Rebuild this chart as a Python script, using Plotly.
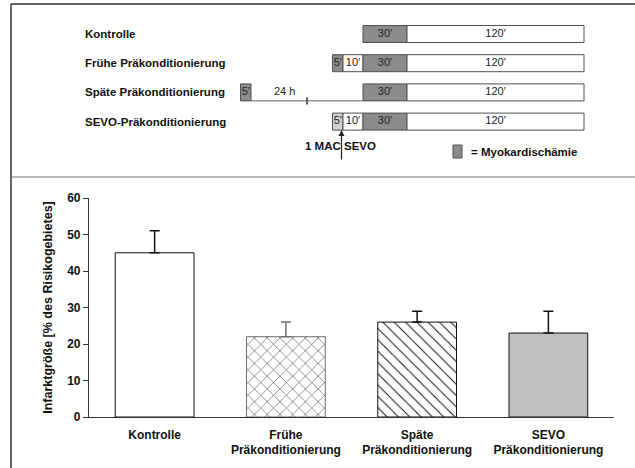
import plotly.graph_objects as go

# ---- protocol schematic (top panel) ----
proto_rows = ["Kontrolle", "Frühe Präkonditionierung",
              "Späte Präkonditionierung", "SEVO-Präkonditionierung"]
proto_minutes = [[30, 120], [5, 10, 30, 120], [5, 1440, 30, 120], [5, 10, 30, 120]]
proto_phase = [["isch", "rep"], ["isch", "rep", "isch", "rep"],
               ["isch", "gap", "isch", "rep"], ["sevo", "rep", "isch", "rep"]]

# ---- infarct size (bottom panel) ----
categories = ["Kontrolle", "Frühe<br>Präkonditionierung",
              "Späte<br>Präkonditionierung", "SEVO<br>Präkonditionierung"]
infarct = [45, 22, 26, 23]
sem = [6, 4, 3, 6]

W, H = 635, 468
FONT = "Liberation Sans, Arial, sans-serif"
ISCH, SEVO_C, EDGE = "#8c8c8c", "#d0d0d0", "#505050"

def px(xp):
    return xp / W

def py(yp):
    return 1 - yp / H

# schematic (not to scale) drawing width for each duration
def seg_width(minutes):
    return {5: 10.5, 10: 20, 30: 44, 120: 177, 1440: 112}[minutes]

def label_for(minutes):
    return "24 h" if minutes == 1440 else f"{minutes}′"

fig = go.Figure()

row_y0, row_step, bar_h = 34, 29.2, 17
fill_of = {"isch": ISCH, "rep": "white", "sevo": SEVO_C}
tx, ty, tt = [], [], []
for i, (mins, phases) in enumerate(zip(proto_minutes, proto_phase)):
    yc = row_y0 + i * row_step
    widths = [seg_width(m) for m in mins]
    # index ischaemia (second to last segment) starts at 0
    start = -sum(widths[:-2])
    for m, ph, w in zip(mins, phases, widths):
        if ph == "gap":
            fig.add_trace(go.Scatter(
                x=[start, start + w], y=[yc + bar_h / 2, yc + bar_h / 2],
                mode="lines", line=dict(color="#606060", width=1),
                xaxis="x2", yaxis="y2", showlegend=False, hoverinfo="skip"))
            fig.add_trace(go.Scatter(
                x=[start + w / 2], y=[yc + bar_h / 2], mode="markers",
                marker=dict(symbol="line-ns-open", size=5, color="#606060",
                            line=dict(color="#606060", width=2)),
                xaxis="x2", yaxis="y2", showlegend=False, hoverinfo="skip"))
            tx.append(start + w * 0.3); ty.append(yc); tt.append(label_for(m))
        else:
            fig.add_trace(go.Bar(
                y=[yc], x=[w], base=[start], orientation="h", width=bar_h,
                marker=dict(color=fill_of[ph], line=dict(color=EDGE, width=1)),
                xaxis="x2", yaxis="y2", showlegend=False, hoverinfo="skip"))
            tx.append(start + w / 2); ty.append(yc); tt.append(label_for(m))
        start += w
    fig.add_annotation(x=px(83), y=yc, xref="paper", yref="y2",
                       text=f"<b>{proto_rows[i]}</b>", showarrow=False,
                       xanchor="left", yanchor="middle",
                       font=dict(family=FONT, size=11.5, color="#111"))

fig.add_trace(go.Scatter(
    x=tx, y=ty, text=tt, mode="text", textposition="middle center",
    textfont=dict(family=FONT, size=11, color="#222"),
    xaxis="x2", yaxis="y2", showlegend=False, hoverinfo="skip"))

# sevoflurane application arrow
sevo_start = -(seg_width(5) + seg_width(10))
arrow_x = sevo_start + 9
sevo_y = row_y0 + 3 * row_step + bar_h / 2
fig.add_annotation(x=arrow_x, y=sevo_y, ax=arrow_x, ay=sevo_y + 31,
                   xref="x2", yref="y2", axref="x2", ayref="y2", text="",
                   showarrow=True, arrowhead=2, arrowsize=1, arrowwidth=1.2,
                   arrowcolor="#222")
fig.add_annotation(x=arrow_x - 1, y=sevo_y + 16, xref="x2", yref="y2",
                   text="<b>1 MAC SEVO</b>", showarrow=False,
                   font=dict(family=FONT, size=11.5, color="#111"))

# legend swatch for ischaemia
fig.add_shape(type="rect", xref="x2", yref="y2", x0=90, x1=99, y0=145, y1=158,
              fillcolor=ISCH, line=dict(color=EDGE, width=1))
fig.add_annotation(x=106, y=152, xref="x2", yref="y2",
                   text="<b>= Myokardischämie</b>", showarrow=False,
                   xanchor="left", font=dict(family=FONT, size=11.5, color="#111"))

# ---- bars ----
bar_styles = [
    dict(color="white", line=dict(color="#111", width=1)),
    dict(color="white", line=dict(color="#6e6e6e", width=1),
         pattern=dict(shape="x", fgcolor="#6e6e6e", bgcolor="white",
                      size=9, solidity=0.16, fillmode="replace")),
    dict(color="white", line=dict(color="#111", width=1),
         pattern=dict(shape="\\", fgcolor="#111", bgcolor="white",
                      size=8, solidity=0.12, fillmode="replace")),
    dict(color="#c0c0c0", line=dict(color="#111", width=1)),
]
err_colors = ["#111", "#6e6e6e", "#111", "#111"]
for c, v, e, st, ec in zip(categories, infarct, sem, bar_styles, err_colors):
    fig.add_trace(go.Bar(
        x=[c], y=[v], width=0.6, marker=st,
        error_y=dict(type="data", array=[e], arrayminus=[0], symmetric=False,
                     color=ec, thickness=1.5, width=5),
        showlegend=False))

# frame lines
frame = dict(color="#333", width=1.5)
fig.add_shape(type="line", xref="paper", yref="paper", x0=px(11), x1=1,
              y0=py(4), y1=py(4), line=frame)
fig.add_shape(type="line", xref="paper", yref="paper", x0=px(11), x1=px(11),
              y0=py(4), y1=0, line=frame)
fig.add_shape(type="line", xref="paper", yref="paper", x0=px(11), x1=1,
              y0=py(177), y1=py(177), line=dict(color="#777", width=1.2))

tickfont = dict(family=FONT, size=12, color="#111", weight="bold")
fig.update_layout(
    width=W, height=H, margin=dict(l=0, r=0, t=0, b=0),
    paper_bgcolor="white", plot_bgcolor="white", barmode="overlay",
    xaxis=dict(domain=[px(89), px(614)], categoryorder="array",
               categoryarray=categories, range=[-0.5, 3.5],
               showline=True, linecolor="#333", linewidth=1.2,
               ticks="", tickfont=tickfont, automargin=False,
               ticklabelstandoff=6, showgrid=False, zeroline=False),
    yaxis=dict(domain=[py(417), py(198)], range=[0, 60],
               tickvals=[0, 10, 20, 30, 40, 50, 60], ticks="outside",
               ticklen=5, tickcolor="#333", showline=True, linecolor="#333",
               linewidth=1.2, tickfont=tickfont, showgrid=False,
               zeroline=False, automargin=False,
               title=dict(text="Infarktgröße [% des Risikogebietes]",
                          font=dict(family=FONT, size=12.5, color="#111",
                                    weight="bold"), standoff=11)),
    xaxis2=dict(domain=[0, 1], range=[-363, W - 363], visible=False,
                anchor="y2"),
    yaxis2=dict(domain=[py(177), py(4)], range=[177, 4], visible=False,
                anchor="x2"),
)

fig.write_html("out.html")
